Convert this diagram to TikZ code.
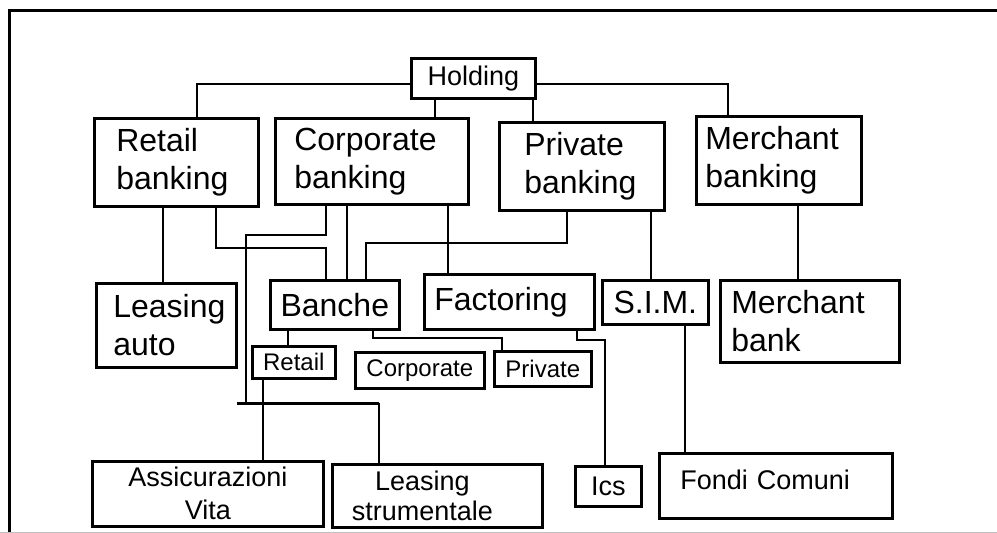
\documentclass[tikz,border=0pt]{standalone}
\usepackage{fontspec}
\setmainfont{Liberation Sans}
\usetikzlibrary{positioning}
\hfuzz=20pt

\begin{document}
\begin{tikzpicture}[x=1pt,y=-1pt,
    box/.style={draw,line width=2.6pt,anchor=north west,inner sep=0pt},
    big/.style={font=\fontsize{32}{38}\selectfont},
    mid/.style={font=\fontsize{27}{33}\selectfont},
    small/.style={font=\fontsize{24}{28}\selectfont},
    link/.style={line width=2pt}]
    \useasboundingbox (0,0) rectangle (997,533);
    % cornice
    \draw[line width=3pt] (9,533) -- (9,10) -- (997,10);
    \draw[black!25,line width=1pt] (0,532) -- (997,532);
    % holding e divisioni
    \node[box,mid,minimum width=124pt,minimum height=40pt] (holding) at (410,57) {Holding};
    \node[box,big,align=left,minimum width=164pt,minimum height=88pt,text width=120pt] (retailbk) at (93,117) {Retail\\banking};
    \node[box,big,align=left,minimum width=193pt,minimum height=86pt,text width=155pt] (corpbk) at (274,117) {Corporate\\banking};
    \node[box,big,align=left,minimum width=165pt,minimum height=88pt,text width=115pt] (privbk) at (498,121) {Private\\banking};
    \node[box,big,align=left,minimum width=165pt,minimum height=88pt,text width=147pt] (merchbk) at (695,115) {Merchant\\banking};
    % societa
    \node[box,big,align=left,minimum width=140pt,minimum height=84pt,text width=106pt] (leasauto) at (95,282) {Leasing\\auto};
    \node[box,big,minimum width=129pt,minimum height=49pt] (banche) at (269,279) {Banche};
    \node[box,big,align=left,minimum width=170pt,minimum height=55pt,text width=150pt] (factoring) at (423,273) {Factoring};
    \node[box,big,minimum width=106pt,minimum height=44pt] (sim) at (601,279) {S.I.M.};
    \node[box,big,align=left,minimum width=179pt,minimum height=82pt,text width=157pt] (merchbank) at (719,279) {Merchant\\bank};
    \node[box,small,minimum width=83pt,minimum height=32pt] (retailsm) at (251,345) {Retail};
    \node[box,small,minimum width=129pt,minimum height=36pt] (corpsm) at (354,351) {Corporate};
    \node[box,small,minimum width=97pt,minimum height=35pt] (privsm) at (493,350) {Private};
    \node[box,mid,align=center,minimum width=231pt,minimum height=65pt] (assic) at (91,460) {Assicurazioni\\Vita};
    \node[box,minimum width=210pt,minimum height=63pt] (leasstr) at (331,463) {};
    \node[font=\fontsize{27}{30}\selectfont,align=center,inner sep=0pt] (leasstrtxt) at ([xshift=-15pt]leasstr.center) {Leasing\\strumentale};
    \node[box,mid,minimum width=66pt,minimum height=40pt] (ics) at (574,465) {Ics};
    \node[box,mid,align=left,minimum width=233pt,minimum height=65pt,text width=191pt,text depth=12pt] (fondi) at (658,452) {Fondi Comuni};
    % collegamenti
    \draw[link] ([yshift=-6pt]holding.west) -| (197,0 |- retailbk.north);
    \draw[link] (435,0 |- holding.south) -- (435,0 |- corpbk.north);
    \draw[link] (533,0 |- holding.south) -- (533,0 |- privbk.north);
    \draw[link] ([yshift=-6pt]holding.east) -| (728,0 |- merchbk.north);
    \draw[link] (163,0 |- retailbk.south) -- (163,0 |- leasauto.north);
    \draw[link] (216,0 |- retailbk.south) |- (326,248) -- (326,0 |- banche.north);
    \draw[link] (347,0 |- corpbk.south) -- (347,0 |- banche.north);
    \draw[link] (448,0 |- corpbk.south) -- (448,0 |- factoring.north);
    \draw[link] (567,0 |- privbk.south) |- (366,243) -- (366,0 |- banche.north);
    \draw[link] (651,0 |- privbk.south) -- (651,0 |- sim.north);
    \draw[link] (798,0 |- merchbk.south) -- (798,0 |- merchbank.north);
    \draw[link] (288,0 |- banche.south) -- (288,0 |- retailsm.north);
    \draw[link] (373,0 |- banche.south) |- (502,338) -- (502,0 |- privsm.north);
    \draw[link] (577,0 |- factoring.south) |- (605,340) -- (605,0 |- ics.north);
    \draw[link] (685,0 |- sim.south) -- (685,0 |- fondi.north);
    % assicurazioni e leasing strumentale
    \coordinate (busl) at (237,403);
    \coordinate (busr) at (379,403);
    \draw[link] (326,0 |- corpbk.south) |- (246,235) -- (246,0 |- busl);
    \draw[link,line width=3pt] (busl) -- (busr);
    \draw[link] (busr) -- (379,0 |- leasstr.north);
    \draw[link] (263,0 |- retailsm.south) -- (263,0 |- assic.north);
\end{tikzpicture}
\end{document}
